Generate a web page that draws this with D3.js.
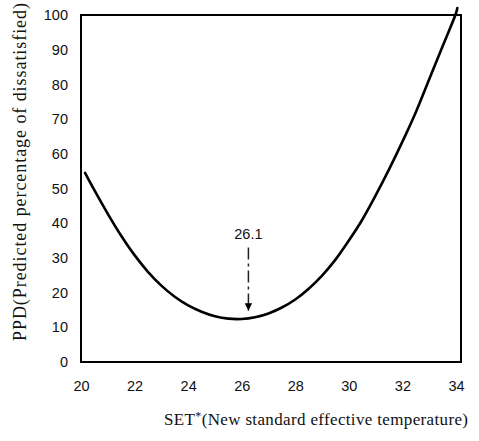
<!DOCTYPE html>
<html>
<head>
<meta charset="utf-8">
<script src="https://cdn.jsdelivr.net/npm/d3@7"></script>
<style>
  html, body { margin: 0; padding: 0; background: #fff; }
  svg { display: block; }
</style>
</head>
<body>
<svg id="chart" width="479" height="441"></svg>
<script>
// ---- data ----
const setValues = [20.15, 20.5, 21, 21.5, 22, 22.5, 23, 23.5, 24, 24.5, 25, 25.5, 26, 26.5, 27, 27.5, 28, 28.5, 29, 29.5, 30, 30.5, 31, 31.5, 32, 32.5, 33, 33.5, 34, 34.05];
const ppdValues = [54.5, 49.5, 42.7, 36.4, 30.8, 26.0, 22.0, 18.8, 16.3, 14.5, 13.2, 12.5, 12.4, 12.9, 14.0, 15.7, 18.0, 21.1, 24.9, 29.5, 35.0, 41.0, 48.0, 55.5, 63.5, 72.0, 81.5, 91.0, 100.5, 102];
const xTicks = [20, 22, 24, 26, 28, 30, 32, 34];
const yTicks = [0, 10, 20, 30, 40, 50, 60, 70, 80, 90, 100];
const annotX = [26.25];
const annotLabel = ["26.1"];
const annotFrom = [33];
const annotTo = [14.8];
const xTitleParts = ["SET", "*", "(New standard effective temperature)"];
const yTitle = "PPD(Predicted percentage of dissatisfied)";

// ---- layout ----
const svg = d3.select("#chart");
const boxL = 81, boxR = 461, boxT = 15, boxB = 362;

const x = d3.scaleLinear().domain([20, 34]).range([81, 456]);
const y = d3.scaleLinear().domain([0, 100]).range([362, 15]);

// axes (labels only, no tick marks)
const xAxis = svg.append("g")
  .attr("transform", `translate(0,${boxB})`)
  .call(d3.axisBottom(x).tickValues(xTicks).tickSize(0).tickPadding(19).tickFormat(d3.format("d")));
xAxis.select(".domain").remove();
xAxis.selectAll("text")
  .attr("font-family", "'Liberation Sans', Arial, sans-serif")
  .attr("font-size", 14.5)
  .attr("fill", "#111");

const yAxis = svg.append("g")
  .attr("transform", `translate(${boxL},0)`)
  .call(d3.axisLeft(y).tickValues(yTicks).tickSize(0).tickPadding(13).tickFormat(d3.format("d")));
yAxis.select(".domain").remove();
yAxis.selectAll("text")
  .attr("font-family", "'Liberation Sans', Arial, sans-serif")
  .attr("font-size", 14.5)
  .attr("fill", "#111");

// frame
svg.append("rect")
  .attr("x", boxL).attr("y", boxT)
  .attr("width", boxR - boxL).attr("height", boxB - boxT)
  .attr("fill", "none").attr("stroke", "#000").attr("stroke-width", 2);

// curve
const line = d3.line()
  .x((d, i) => x(setValues[i]))
  .y(d => y(d))
  .curve(d3.curveCatmullRom.alpha(0.5));
svg.append("path")
  .datum(ppdValues)
  .attr("d", line)
  .attr("fill", "none")
  .attr("stroke", "#000")
  .attr("stroke-width", 2.6)
  .attr("stroke-linejoin", "round")
  .attr("stroke-linecap", "round");

// annotation
svg.append("defs").append("marker")
  .attr("id", "arrow")
  .attr("viewBox", "0 0 10 10")
  .attr("refX", 10).attr("refY", 5)
  .attr("markerWidth", 5).attr("markerHeight", 5)
  .attr("orient", "auto")
  .append("path").attr("d", "M0,0 L10,5 L0,10 z").attr("fill", "#000");

annotX.forEach((ax, i) => {
  svg.append("text")
    .attr("x", x(ax))
    .attr("y", y(annotFrom[i]) - 8)
    .attr("text-anchor", "middle")
    .attr("font-family", "'Liberation Sans', Arial, sans-serif")
    .attr("font-size", 14.5)
    .attr("fill", "#111")
    .text(annotLabel[i]);
  svg.append("line")
    .attr("x1", x(ax)).attr("x2", x(ax))
    .attr("y1", y(annotFrom[i])).attr("y2", y(annotTo[i]))
    .attr("stroke", "#222").attr("stroke-width", 1.5)
    .attr("stroke-dasharray", "12,4,3,4")
    .attr("marker-end", "url(#arrow)");
});

// titles
const xt = svg.append("text")
  .attr("x", 316).attr("y", 425)
  .attr("text-anchor", "middle")
  .attr("font-family", "'Liberation Serif', 'Times New Roman', serif")
  .attr("font-size", 17)
  .attr("textLength", 304)
  .attr("lengthAdjust", "spacing")
  .attr("fill", "#111");
xt.append("tspan").text(xTitleParts[0]);
xt.append("tspan").attr("font-size", 12).attr("dy", -5).text(xTitleParts[1]);
xt.append("tspan").attr("dy", 5).text(xTitleParts[2]);

svg.append("text")
  .attr("transform", "translate(26,172) rotate(-90)")
  .attr("text-anchor", "middle")
  .attr("font-family", "'Liberation Serif', 'Times New Roman', serif")
  .attr("font-size", 18)
  .attr("textLength", 338)
  .attr("lengthAdjust", "spacing")
  .attr("fill", "#111")
  .text(yTitle);
</script>
</body>
</html>
